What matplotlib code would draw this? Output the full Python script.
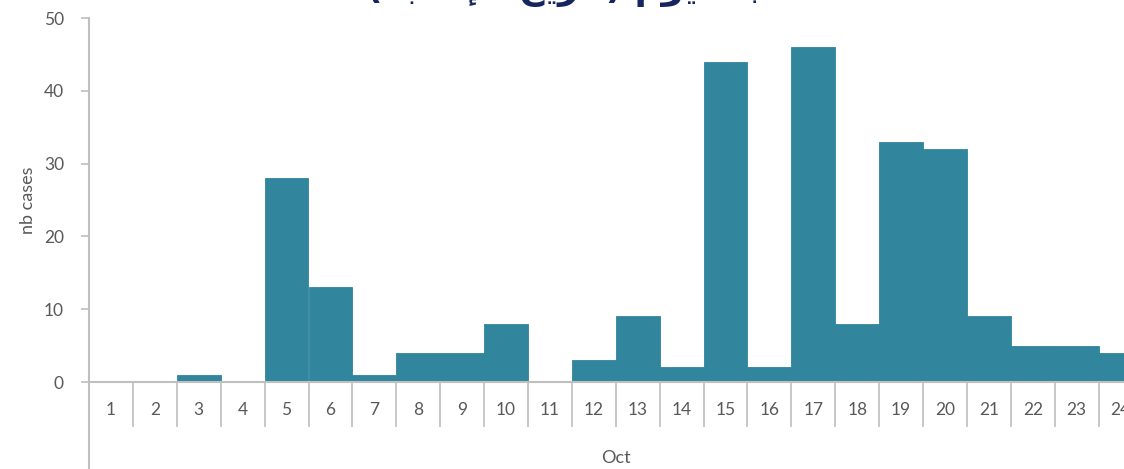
import matplotlib
matplotlib.use("Agg")
import matplotlib.pyplot as plt

days = list(range(1, 25))
cases = [0, 0, 1, 0, 28, 13, 1, 4, 4, 8, 0, 3, 9, 2, 44, 2, 46, 8, 33, 32, 9, 5, 5, 4]
title = "حسب اليوم (تاريخ الإصابة)"
month = "Oct"
ylabel = "nb cases"

BAR = "#31859C"
AXIS = "#BFBFBF"
TXT = "#595959"


def shape_arabic(s):
    # tiny shaper: presentation forms + visual order (matplotlib has no bidi)
    base = {"ا": 0xFE8D, "إ": 0xFE87, "ب": 0xFE8F, "ة": 0xFE93, "ت": 0xFE95,
            "ح": 0xFEA1, "خ": 0xFEA5, "ر": 0xFEAD, "س": 0xFEB1, "ص": 0xFEB9,
            "ل": 0xFEDD, "م": 0xFEE1, "و": 0xFEED, "ي": 0xFEF1}
    dual = set("بتحخسصلمي")
    out = []
    i = 0
    while i < len(s):
        c = s[i]
        prev = i > 0 and s[i - 1] in dual
        if c == "ل" and i + 1 < len(s) and s[i + 1] in "اإ":
            lig = 0xFEFB if s[i + 1] == "ا" else 0xFEF9
            out.append(chr(lig + (1 if prev else 0)))
            i += 2
            continue
        if c not in base:
            out.append(c)
            i += 1
            continue
        nxt = c in dual and i + 1 < len(s) and s[i + 1] in base
        b = base[c]
        if prev and nxt:
            out.append(chr(b + 3))
        elif nxt:
            out.append(chr(b + 2))
        elif prev:
            out.append(chr(b + 1))
        else:
            out.append(chr(b))
        i += 1
    vis = "".join(reversed(out))
    return vis.translate(str.maketrans("()", ")("))


plt.rcParams["font.family"] = ["Lato", "DejaVu Sans"]

fig = plt.figure(figsize=(11.24, 4.69), dpi=100)
px = 1 / 1124
ymin = -11.95
ax = fig.add_axes([89 * px, 0, 1053.6 * px, (469 - 18) / 469])

ax.bar(days, cases, width=1.0, color=BAR, edgecolor=BAR, linewidth=0.6, zorder=2)
ax.set_xlim(0.5, 24.5)
ax.set_ylim(ymin, 50)

for s in ["top", "right", "bottom"]:
    ax.spines[s].set_visible(False)
ax.spines["left"].set_color(AXIS)
ax.spines["left"].set_linewidth(1.5)

ax.set_yticks(range(0, 51, 10))
ax.tick_params(axis="y", colors=AXIS, labelcolor=TXT, labelsize=12.5, length=6, width=1.2, pad=12)
ax.set_xticks([])

ax.axhline(0, color=AXIS, lw=1.5, zorder=3)
ax.vlines([d + 0.5 for d in days[:-1]], -6.2, 0, color=AXIS, lw=1.2)
for d in days:
    ax.text(d, -3.85, str(d), ha="center", va="center", fontsize=12.5, color=TXT)
ax.text(12.5, -10.4, month, ha="center", va="center", fontsize=13, color=TXT)

fig.text(28 * px, 1 - 200 / 469, ylabel, rotation=90, ha="center", va="center",
         fontsize=13, color=TXT)

fig.text(602 * px, 1 - 7 / 469, shape_arabic(title), ha="center", va="bottom",
         fontsize=26, fontweight="bold", color="#17255E", family="DejaVu Sans")

fig.savefig("out.png", dpi=100)
